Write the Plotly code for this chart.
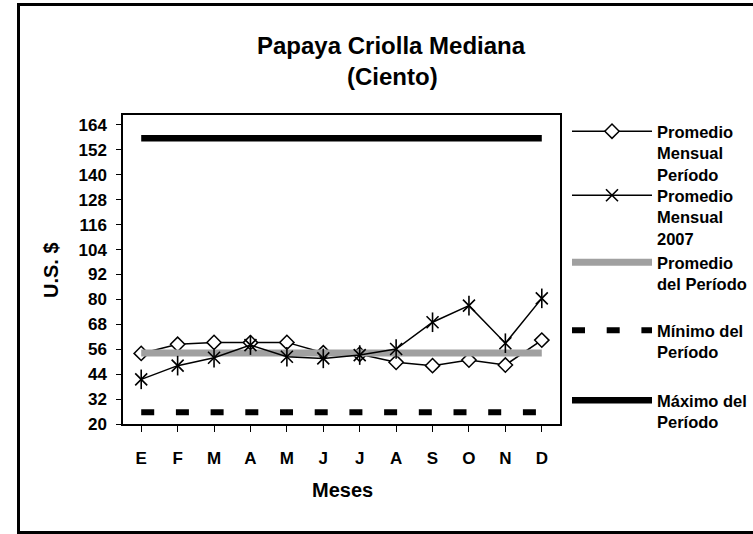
import plotly.graph_objects as go

meses = ["E", "F", "M", "A", "M", "J", "J", "A", "S", "O", "N", "D"]
mes_idx = list(range(12))
prom_mensual_periodo = [54.0, 58.4, 59.3, 59.2, 59.3, 54.3, 53.6, 49.7, 48.1, 50.8, 48.4, 60.4]
prom_mensual_2007 = [41.5, 48.1, 51.9, 58.0, 52.4, 51.6, 53.2, 56.1, 69.0, 77.0, 58.9, 80.5]
prom_periodo = [54.2] * 12
minimo_periodo = [25.6] * 12
maximo_periodo = [157.6] * 12
y_ticks = [20, 32, 44, 56, 68, 80, 92, 104, 116, 128, 140, 152, 164]

FONT = "Liberation Sans, Arial, sans-serif"
L, R, T, B = 123, 193, 115, 110
W, H = 753, 534
PW, PH = W - L - R, H - T - B


def px_x(px):
    return (px - L) / PW


def px_y(py):
    return (H - B - py) / PH


fig = go.Figure()

# draw order: diamonds, band, stars, min, max
fig.add_trace(go.Scatter(
    x=mes_idx, y=prom_mensual_periodo, mode="lines+markers",
    name="Promedio<br>Mensual<br>Período",
    line=dict(color="black", width=1.5),
    marker=dict(symbol="diamond", size=11, color="white",
                line=dict(color="black", width=1.5)),
    legend="legend",
))
fig.add_trace(go.Scatter(
    x=mes_idx, y=prom_periodo, mode="lines",
    name="Promedio<br>del Período<br> ",
    line=dict(color="#a0a0a0", width=7),
    legend="legend3",
))
fig.add_trace(go.Scatter(
    x=mes_idx, y=prom_mensual_2007, mode="lines+markers",
    name="Promedio<br>Mensual<br>2007",
    line=dict(color="black", width=1.5),
    marker=dict(symbol="x-thin-open", size=12, color="black",
                line=dict(color="black", width=1.6)),
    legend="legend2",
))
fig.add_trace(go.Scatter(
    x=mes_idx, y=prom_mensual_2007, mode="markers",
    showlegend=False, hoverinfo="skip",
    marker=dict(symbol="line-ns-open", size=14, color="black",
                line=dict(color="black", width=1.6)),
))
fig.add_trace(go.Scatter(
    x=mes_idx, y=minimo_periodo, mode="lines",
    name="Mínimo del<br>Período<br> ",
    line=dict(color="black", width=6, dash="13px,21.7px"),
    legend="legend4",
))
fig.add_trace(go.Scatter(
    x=mes_idx, y=maximo_periodo, mode="lines",
    name="Máximo del<br>Período<br> ",
    line=dict(color="black", width=6.5),
    legend="legend5",
))

leg_font = dict(family=FONT, size=16.5, color="black", weight="bold")
leg_common = dict(x=px_x(567), xanchor="left", yanchor="top", valign="top",
                  itemwidth=80, font=leg_font, bgcolor="rgba(0,0,0,0)",
                  borderwidth=0, itemclick=False, itemdoubleclick=False)
tops = [114, 178, 245, 313, 383]

tick_font = dict(family=FONT, size=17, color="black", weight="bold")
axis_title_font = dict(family=FONT, size=20, color="black", weight="bold")
title_font = dict(family=FONT, size=24, color="black", weight="bold")

fig.update_layout(
    width=W, height=H,
    margin=dict(l=L, r=R, t=T, b=B, autoexpand=False),
    paper_bgcolor="white", plot_bgcolor="white",
    showlegend=True,
    legend=dict(y=px_y(tops[0]), **leg_common),
    legend2=dict(y=px_y(tops[1]), **leg_common),
    legend3=dict(y=px_y(tops[2]), **leg_common),
    legend4=dict(y=px_y(tops[3]), **leg_common),
    legend5=dict(y=px_y(tops[4]), **leg_common),
    xaxis=dict(
        tickmode="array", tickvals=mes_idx, ticktext=meses,
        range=[-0.5, 11.5], showgrid=False, zeroline=False,
        showline=True, linecolor="black", linewidth=1.5, mirror=True,
        ticks="outside", ticklen=6, tickcolor="black", tickwidth=1,
        tickfont=tick_font, ticklabelstandoff=12,
    ),
    yaxis=dict(
        tickmode="array", tickvals=y_ticks, ticktext=[str(v) for v in y_ticks],
        range=[20, 168.8], showgrid=False, zeroline=False,
        showline=True, linecolor="black", linewidth=1.5, mirror=True,
        ticks="outside", ticklen=5, tickcolor="black", tickwidth=1,
        tickfont=tick_font, ticklabelstandoff=6,
    ),
    annotations=[
        dict(text="Papaya Criolla Mediana", x=px_x(391), y=px_y(45),
             xref="paper", yref="paper", showarrow=False,
             xanchor="center", yanchor="middle", font=title_font),
        dict(text="(Ciento)", x=px_x(392), y=px_y(76),
             xref="paper", yref="paper", showarrow=False,
             xanchor="center", yanchor="middle", font=title_font),
        dict(text="U.S. $", x=px_x(51), y=px_y(270), textangle=-90,
             xref="paper", yref="paper", showarrow=False,
             xanchor="center", yanchor="middle", font=axis_title_font),
        dict(text="Meses", x=px_x(342), y=px_y(490),
             xref="paper", yref="paper", showarrow=False,
             xanchor="center", yanchor="middle", font=axis_title_font),
    ],
    shapes=[
        dict(type="rect", xref="paper", yref="paper",
             x0=px_x(18.5), x1=px_x(770), y0=px_y(532.5), y1=px_y(4.5),
             line=dict(color="black", width=3), fillcolor="rgba(0,0,0,0)",
             layer="below"),
    ],
)

fig.write_html(
    "out.html",
    config={"displayModeBar": False},
    post_script="document.body.style.margin='0';document.body.style.padding='0';",
)
